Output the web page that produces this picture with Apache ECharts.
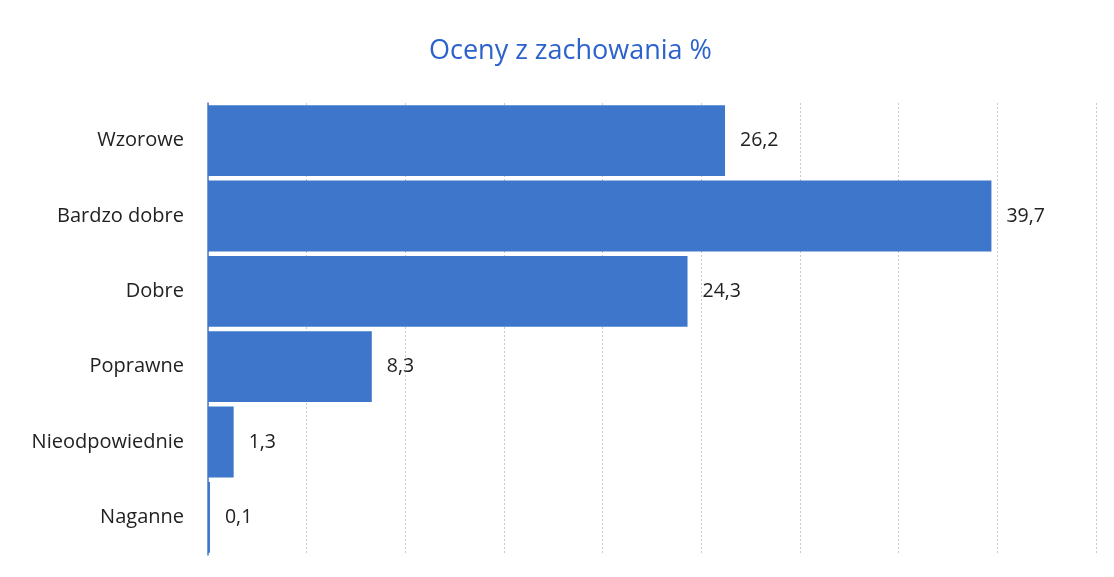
<!DOCTYPE html>
<html>
<head>
<meta charset="utf-8">
<script src="https://cdn.jsdelivr.net/npm/echarts@6/dist/echarts.min.js"></script>
<style>
html,body{margin:0;padding:0;background:#fff;}
#c{width:1114px;height:577px;}
</style>
</head>
<body>
<div id="c"></div>
<script>
const categories = ['Wzorowe', 'Bardzo dobre', 'Dobre', 'Poprawne', 'Nieodpowiednie', 'Naganne'];
const values = [26.2, 39.7, 24.3, 8.3, 1.3, 0.1];
const titleText = 'Oceny z zachowania %';

const chart = echarts.init(document.getElementById('c'));
chart.setOption({
  backgroundColor: '#ffffff',
  animation: false,
  title: {
    text: titleText,
    left: 424,
    top: 33,
    textStyle: { color: '#2b62cc', fontSize: 27, fontWeight: 'normal', fontFamily: 'Open Sans' }
  },
  grid: { left: 208, right: 18, top: 103, bottom: 22, containLabel: false },
  xAxis: {
    type: 'value',
    min: 0, max: 45, interval: 5,
    axisLabel: { show: false },
    axisLine: { show: false },
    axisTick: { show: false },
    splitLine: { show: true, lineStyle: { color: '#c8c8c8', type: [2, 2], width: 1 } }
  },
  yAxis: {
    type: 'category',
    inverse: true,
    data: categories,
    axisLine: { show: true, lineStyle: { color: '#4a78c8', width: 1.5 } },
    axisTick: { show: false },
    axisLabel: { color: '#222', fontSize: 20, margin: 24, fontFamily: 'Open Sans' }
  },
  series: [{
    type: 'bar',
    data: values,
    barCategoryGap: '6%',
    itemStyle: { color: '#3d76ca' },
    label: {
      show: true,
      position: 'right',
      distance: 15,
      color: '#222',
      fontSize: 19.5,
      fontFamily: 'Open Sans',
      formatter: p => String(p.value).replace('.', ',')
    }
  }]
});
</script>
</body>
</html>
